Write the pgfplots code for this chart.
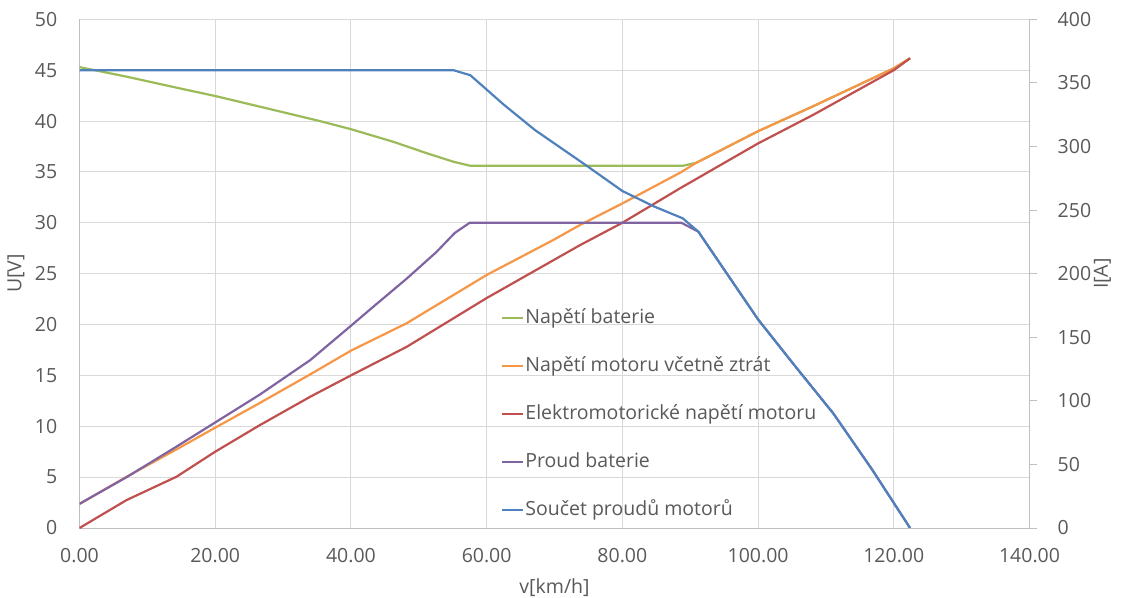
\documentclass[border=0pt]{standalone}
\usepackage{pgfplots}
\pgfplotsset{compat=1.18}
\usepackage{fontspec}
\setmainfont{Open Sans}

\definecolor{cgreen}{HTML}{9BBB59}
\definecolor{corange}{HTML}{F79646}
\definecolor{cred}{HTML}{C0504D}
\definecolor{cpurple}{HTML}{8064A2}
\definecolor{cblue}{HTML}{4F81BD}
\definecolor{txt}{HTML}{595959}
\definecolor{gridc}{HTML}{D9D9D9}
\definecolor{axc}{HTML}{BFBFBF}

\pgfplotsset{
  common/.style={
    scale only axis, width=950bp, height=508.7bp,
    at={(0,0)}, anchor=south west,
    xmin=0, xmax=140,
    font=\fontsize{19.5bp}{23bp}\selectfont,
    tick label style={text=txt},
    label style={text=txt},
    /pgf/number format/assume math mode=true,
    every axis plot/.append style={line width=2.2bp, line join=round, mark=none},
    axis line style={draw=axc, line width=1bp},
  },
}

\begin{document}
\begin{tikzpicture}
% voltages (left axis)
\begin{axis}[common,
  ymin=0, ymax=50, ytick distance=5, xtick distance=20,
  axis x line*=bottom, axis y line*=left,
  major tick length=0pt,
  grid=major, major grid style={draw=gridc, line width=1bp},
  xticklabel style={/pgf/number format/fixed, /pgf/number format/fixed zerofill,
    /pgf/number format/precision=2, /pgf/number format/assume math mode=true,
    inner sep=0pt, anchor=north, yshift=-20bp},
  yticklabel style={inner sep=0pt, anchor=east, xshift=-22bp},
  xlabel={v[km/h]},
  xlabel style={at={(axis description cs:0.5,-0.118)}, anchor=center},
  ylabel={U[V]},
  ylabel style={at={(axis description cs:-0.0668,0.5)}, anchor=center},
  legend cell align=left,
  legend image code/.code={\draw[#1, line width=2.2bp] (0bp,0bp) -- (21bp,0bp);},
  legend style={draw=none, fill=none, at={(0.4437,0.4325)}, anchor=north west,
    font=\fontsize{19.5bp}{23bp}\selectfont, text=txt,
    inner sep=0pt, row sep=28bp,
    nodes={inner sep=1bp, text height=14bp, text depth=4bp},
    /tikz/every even column/.append style={column sep=2bp}},
]
\addplot[cgreen] coordinates {
  (0,45.3)(6.95,44.36)(14.3,43.28)(20,42.46)(27.6,41.25)(35.4,40.0)(40,39.2)
  (46.2,37.97)(51.2,36.83)(55.1,36.0)(57.6,35.6)(88.9,35.6)(90.9,35.9)
  (100,39.0)(108.1,41.45)(120,45.18)(122.4,46.17)};
\addlegendentry{Napětí baterie}
\addplot[corange] coordinates {
  (0,2.36)(6.95,5.04)(14.3,7.73)(20,9.86)(26.6,12.3)(34,15.1)(40,17.43)
  (48.2,20.12)(60,24.87)(69.8,28.3)(73.75,29.78)(80,31.9)(88.5,34.92)
  (90.9,35.9)(100,39.0)(108.1,41.45)(120,45.18)(122.4,46.17)};
\addlegendentry{Napětí motoru včetně ztrát}
\addplot[cred] coordinates {
  (0,0)(6.95,2.75)(14.3,5.04)(20,7.5)(26.6,10.12)(34,12.9)(40,15.0)
  (48.2,17.8)(60,22.6)(73.75,27.8)(80,30.0)(88.5,33.39)(100,37.8)
  (108.1,40.6)(120,45.0)(122.4,46.17)};
\addlegendentry{Elektromotorické napětí motoru}
\addlegendimage{cpurple}
\addlegendentry{Proud baterie}
\addlegendimage{cblue}
\addlegendentry{Součet proudů motorů}
\end{axis}

% currents (right axis)
\begin{axis}[common,
  ymin=0, ymax=400, ytick distance=50,
  axis x line=none, axis y line*=right,
  tick align=outside, major tick length=7bp,
  major tick style={draw=axc, line width=1bp},
  yticklabel style={inner sep=0pt, anchor=west, xshift=21bp},
  ylabel={I[A]},
  ylabel style={at={(axis description cs:1.0768,0.5)}, anchor=center},
]
\addplot[cpurple] coordinates {
  (0,19)(6.95,40)(14.3,64)(20,83)(26.6,105)(34,132)(40,159)(43.3,174)
  (48.2,196)(52.6,217)(55.3,232)(57.5,240)(88.7,240)(91.2,233)(100,164)
  (105.5,127)(111.1,90)(116.8,46)(122.4,0)};
\addplot[cblue] coordinates {
  (0,360)(55.1,360)(57.6,356)(62.5,333)(67.1,313)(74.7,285)(80,265)
  (84.6,253)(88.9,243.5)(91.2,233)(100,164)(105.5,127)(111.1,90)
  (116.8,46)(122.4,0)};
\end{axis}

\pgfresetboundingbox
\path (-79.5bp,-70bp) rectangle (1042.5bp,528bp);
\end{tikzpicture}
\end{document}
